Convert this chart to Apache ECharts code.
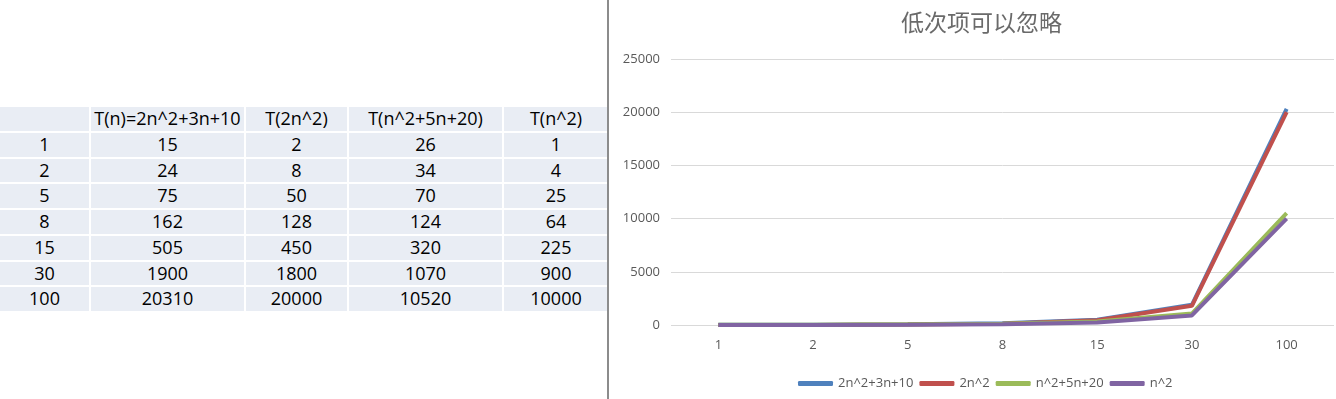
<!DOCTYPE html>
<html>
<head>
<meta charset="utf-8">
<script src="https://cdn.jsdelivr.net/npm/echarts@6/dist/echarts.min.js"></script>
<style>
  html, body { margin: 0; padding: 0; background: #fff; }
  body { width: 1336px; height: 399px; position: relative; overflow: hidden; }
  #table {
    position: absolute; left: 0; top: 107px;
    display: grid;
    grid-template-columns: 89px 153px 101px 153px 104px;
    grid-auto-rows: 23.75px;
    gap: 2px;
    font-family: "Open Sans", sans-serif; font-size: 18px; color: #000;
  }
  #table div {
    background: #e9edf4; text-align: center; line-height: 23.75px; white-space: nowrap;
  }
  #sep { position: absolute; left: 607px; top: 0; width: 2px; height: 399px; background: #8c8c8c; }
  #chart { position: absolute; left: 610px; top: 0; width: 726px; height: 399px; }
</style>
</head>
<body>
<div id="table"></div>
<div id="sep"></div>
<div id="chart"></div>
<script>
// 数据
const nValues = ['1', '2', '5', '8', '15', '30', '100']
const headers = ['', 'T(n)=2n^2+3n+10', 'T(2n^2)', 'T(n^2+5n+20)', 'T(n^2)']
const seriesNames = ['2n^2+3n+10', '2n^2', 'n^2+5n+20', 'n^2']
const tFull = [15, 24, 75, 162, 505, 1900, 20310]
const t2n2 = [2, 8, 50, 128, 450, 1800, 20000]
const tN2Plus = [26, 34, 70, 124, 320, 1070, 10520]
const tN2 = [1, 4, 25, 64, 225, 900, 10000]
const colors = ['#4f81bd', '#c0504d', '#9bbb59', '#8064a2']

// 左边的表格
const table = document.getElementById('table')
const addCell = (txt) => {
  const d = document.createElement('div')
  d.textContent = txt
  table.appendChild(d)
}
headers.forEach(addCell)
nValues.forEach((n, i) => {
  ;[n, tFull[i], t2n2[i], tN2Plus[i], tN2[i]].forEach(addCell)
})

// 右边的折线图
const chart = echarts.init(document.getElementById('chart'))
const data = [tFull, t2n2, tN2Plus, tN2]

chart.setOption({
  animation: false,
  color: colors,
  title: {
    text: '低次项可以忽略',
    left: 286, top: 6,
    textStyle: { fontFamily: 'Noto Sans CJK SC', fontSize: 23, fontWeight: 'normal', color: '#6a6a6a' },
  },
  legend: {
    data: seriesNames,
    left: 183, top: 372,
    icon: 'roundRect', itemWidth: 35, itemHeight: 5, itemGap: 6,
    textStyle: { fontFamily: 'Open Sans', fontSize: 13, color: '#595959' },
  },
  grid: { left: 61, right: 2, top: 59, bottom: 74 },
  xAxis: {
    type: 'category', data: nValues,
    axisLine: { show: false }, axisTick: { show: false },
    axisLabel: { margin: 14, fontFamily: 'Open Sans', fontSize: 13, color: '#595959' },
  },
  yAxis: {
    type: 'value', min: 0, max: 25000, interval: 5000,
    axisLabel: { margin: 11, fontFamily: 'Open Sans', fontSize: 13, color: '#595959', formatter: v => String(v) },
    splitLine: { lineStyle: { color: '#d9d9d9', width: 1 } },
  },
  series: seriesNames.map((name, i) => ({
    name, type: 'line', data: data[i],
    symbol: 'none', lineStyle: { width: 4, color: colors[i] },
    itemStyle: { color: colors[i] },
  })),
})
</script>
</body>
</html>
